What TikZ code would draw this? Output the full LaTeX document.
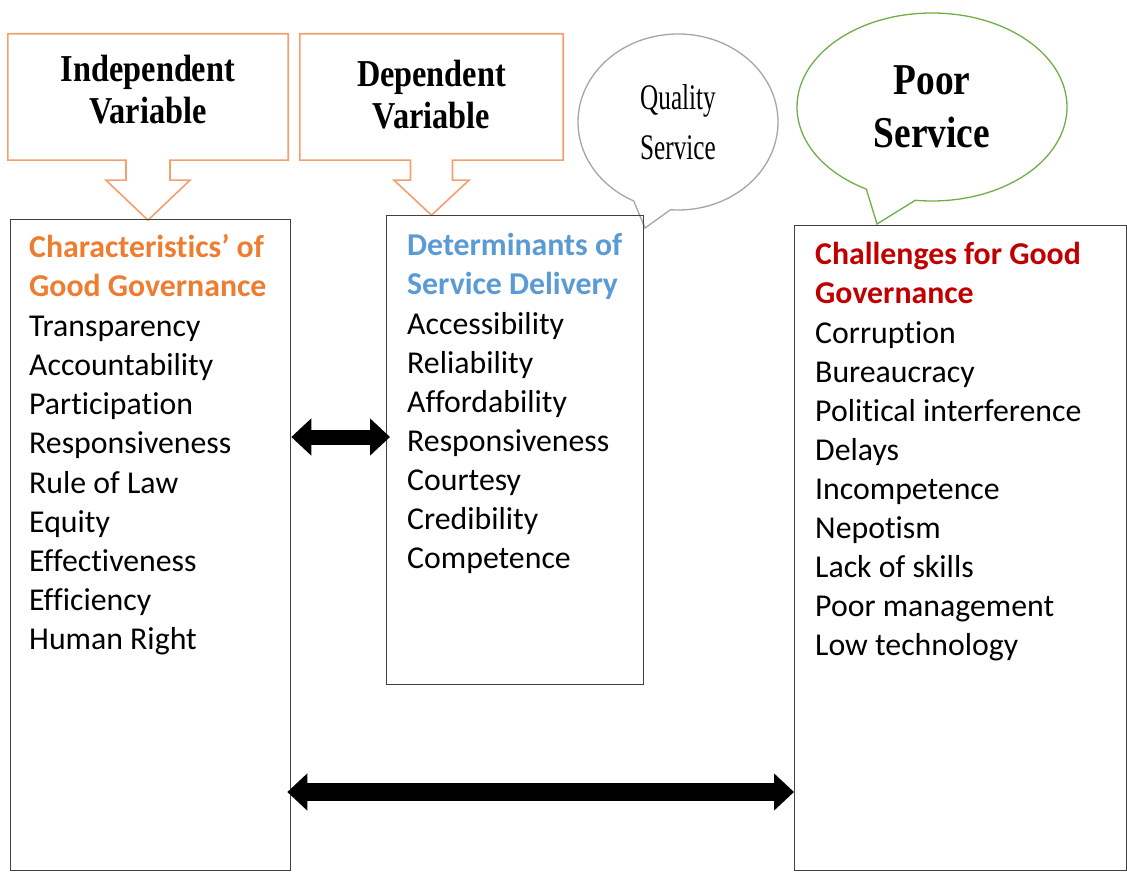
\documentclass[tikz,border=0pt]{standalone}
\usepackage{fontspec}
\setmainfont{Carlito}[Ligatures=NoCommon]
\newfontfamily\varfont[FakeStretch=0.85]{Liberation Serif}
\newfontfamily\qualfont[FakeStretch=0.7]{Liberation Serif}
\usetikzlibrary{arrows.meta,shapes.callouts,calc}
\definecolor{headorange}{RGB}{237,125,49}
\definecolor{headblue}{RGB}{91,155,213}
\definecolor{headred}{RGB}{192,0,0}
\definecolor{calloutorange}{RGB}{241,160,110}
\definecolor{bubblegray}{RGB}{165,165,165}
\definecolor{bubblegreen}{RGB}{112,173,71}
\definecolor{boxgray}{RGB}{64,64,64}

\begin{document}
\begin{tikzpicture}[x=1pt,y=-1pt,
  listbox/.style={draw=boxgray, line width=1.3pt, anchor=north west, inner sep=0pt},
  itemtext/.style={anchor=base west, inner sep=0pt, font=\fontsize{31.8}{39}\selectfont},
  headtext/.style={itemtext, font=\bfseries\fontsize{31.8}{39}\selectfont},
  varbox/.style={align=center, inner sep=0pt, font=\varfont\bfseries\fontsize{38}{42}\selectfont},
  calloutline/.style={draw=calloutorange, line width=1.6pt, line join=miter},
  bubble/.style={ellipse callout, line width=1.3pt, callout pointer arc=22, align=center, inner sep=0pt},
  fatarrow/.style={line width=#1, >={Triangle[length=20pt,width=36pt]}, <->}]
\useasboundingbox (0,0) rectangle (1127,877);

% Variable callouts
\node[varbox, minimum width=280, minimum height=126] (indep) at (148,97) {};
\node[varbox, minimum width=263, minimum height=126] (dep) at (431.5,97) {};
\node[varbox] (indeptext) at (148,90) {Independent\\Variable};
\node[varbox] (deptext) at (431.5,95) {Dependent\\Variable};
\draw[calloutline] (indep.north west) -- (indep.north east) -- (indep.south east)
  -- ($(indep.south)+(22,0)$) -- ++(0,20) -- ++(20,0) -- ($(indep.south)+(0,60)$)
  -- ($(indep.south)+(-42,20)$) -- ++(20,0) -- ++(0,-20) -- (indep.south west) -- cycle;
\draw[calloutline] (dep.north west) -- (dep.north east) -- (dep.south east)
  -- ($(dep.south)+(21,0)$) -- ++(0,20) -- ++(16.5,0) -- ($(dep.south)+(0,55)$)
  -- ($(dep.south)+(-37.5,20)$) -- ++(16.5,0) -- ++(0,-20) -- (dep.south west) -- cycle;

% Speech bubbles
\node[bubble, draw=bubblegray, minimum width=200, minimum height=176,
  callout absolute pointer={(645,228)}, font=\qualfont\fontsize{36}{50}\selectfont]
  (quality) at (678,122) {Quality\\Service};
\node[bubble, draw=bubblegreen, minimum width=270, minimum height=188,
  callout absolute pointer={(877,224)}, font=\varfont\bfseries\fontsize{44}{53}\selectfont]
  (poor) at (932,107) {Poor\\Service};

% List boxes
\node[listbox, minimum width=280, minimum height=651] (charbox) at (10,219) {};
\node[listbox, minimum width=257, minimum height=469] (detbox) at (386,215) {};
\node[listbox, minimum width=332, minimum height=645] (chalbox) at (794,225) {};

% Characteristics
\node[headtext, text=headorange] (charhead1) at (29,258) {Characteristics’ of};
\node[headtext, text=headorange] (charhead2) at (29,297) {Good Governance};
\foreach \txt [count=\i] in {Transparency,Accountability,Participation,Responsiveness,
  Rule of Law,Equity,Effectiveness,Efficiency,Human Right}
  \node[itemtext] (char-\i) at (29,{297+39.2*\i}) {\txt};

% Determinants
\node[headtext, text=headblue] (dethead1) at (407,256) {Determinants of};
\node[headtext, text=headblue] (dethead2) at (407,295) {Service Delivery};
\foreach \txt [count=\i] in {Accessibility,Reliability,Affordability,Responsiveness,
  Courtesy,Credibility,Competence}
  \node[itemtext] (det-\i) at (407,{295+39.1*\i}) {\txt};

% Challenges
\node[headtext, text=headred] (chalhead1) at (815,265) {Challenges for Good};
\node[headtext, text=headred] (chalhead2) at (815,304) {Governance};
\foreach \txt [count=\i] in {Corruption,Bureaucracy,Political interference,Delays,
  Incompetence,Nepotism,Lack of skills,Poor management,Low technology}
  \node[itemtext] (chal-\i) at (815,{304+39.1*\i}) {\txt};

% Links
\coordinate (midrow) at (0,437);
\coordinate (lowrow) at (0,792);
\draw[fatarrow=15pt] (charbox.east |- midrow) -- ([xshift=4pt]detbox.west |- midrow);
\draw[fatarrow=18pt] ([xshift=-4pt]charbox.east |- lowrow) -- (chalbox.west |- lowrow);
\end{tikzpicture}
\end{document}
